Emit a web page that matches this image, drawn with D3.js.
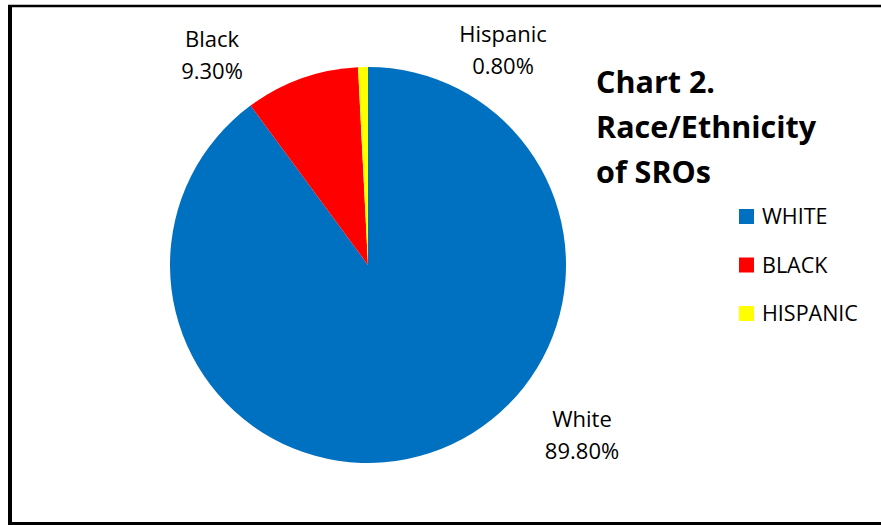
<!DOCTYPE html>
<html>
<head>
<meta charset="utf-8">
<script src="https://cdn.jsdelivr.net/npm/d3@7"></script>
<style>
  body { margin: 0; background: #fff; }
  text { font-family: "Open Sans", "Noto Sans", sans-serif; fill: #000; }
</style>
</head>
<body>
<script>
// Data
const categories = ["White", "Black", "Hispanic"];
const legendLabels = ["WHITE", "BLACK", "HISPANIC"];
const values = [89.8, 9.3, 0.8];
const colors = ["#0070c0", "#ff0000", "#ffff00"];

const W = 881, H = 525;
const center = { x: 368, y: 265 }, radius = 198;

const svg = d3.select("body").append("svg")
  .attr("width", W)
  .attr("height", H);

// Frame (scanned-looking border)
svg.append("line").attr("x1", 10).attr("x2", 10).attr("y1", 5).attr("y2", 525)
  .attr("stroke", "#000").attr("stroke-width", 4);
svg.append("line").attr("x1", 8).attr("x2", 881).attr("y1", 6).attr("y2", 6)
  .attr("stroke", "#000").attr("stroke-width", 2.5);
svg.append("line").attr("x1", 8).attr("x2", 881).attr("y1", 523.5).attr("y2", 523.5)
  .attr("stroke", "#000").attr("stroke-width", 3);

const pie = d3.pie().sort(null).value(d => d.value);
const arcs = pie(categories.map((c, i) => ({ name: c, value: values[i], color: colors[i] })));
const arc = d3.arc().innerRadius(0).outerRadius(radius);

const g = svg.append("g").attr("transform", `translate(${center.x},${center.y})`);

g.selectAll("path.slice")
  .data(arcs)
  .enter()
  .append("path")
  .attr("class", "slice")
  .attr("d", arc)
  .attr("fill", d => d.data.color);

// Data labels outside the pie (offsets tuned to the reference)
const labelPos = {
  White: [214, 162],
  Black: [-156, -218],
  Hispanic: [135, -223]
};

const lbl = g.selectAll("g.lbl")
  .data(arcs)
  .enter()
  .append("g")
  .attr("class", "lbl")
  .attr("transform", d => `translate(${labelPos[d.data.name][0]},${labelPos[d.data.name][1]})`);

lbl.append("text")
  .attr("text-anchor", "middle")
  .attr("font-size", 22)
  .text(d => d.data.name);

lbl.append("text")
  .attr("text-anchor", "middle")
  .attr("font-size", 22)
  .attr("y", 32)
  .text(d => d3.format(".2f")(d.data.value) + "%");

// Title
const title = svg.append("text")
  .attr("x", 596)
  .attr("y", 93)
  .attr("font-size", 30.5)
  .attr("font-weight", "bold");
["Chart 2.", "Race/Ethnicity", "of SROs"].forEach((t, i) => {
  title.append("tspan").attr("x", 596).attr("dy", i === 0 ? 0 : 45).text(t);
});

// Legend
const leg = svg.append("g").attr("transform", "translate(739,209)");
const item = leg.selectAll("g")
  .data(legendLabels)
  .enter()
  .append("g")
  .attr("transform", (d, i) => `translate(0,${i * 48.5})`);
item.append("rect")
  .attr("width", 15).attr("height", 15)
  .attr("fill", (d, i) => colors[i]);
item.append("text")
  .attr("x", 23)
  .attr("y", 15)
  .attr("font-size", 21.5)
  .text(d => d);
</script>
</body>
</html>
